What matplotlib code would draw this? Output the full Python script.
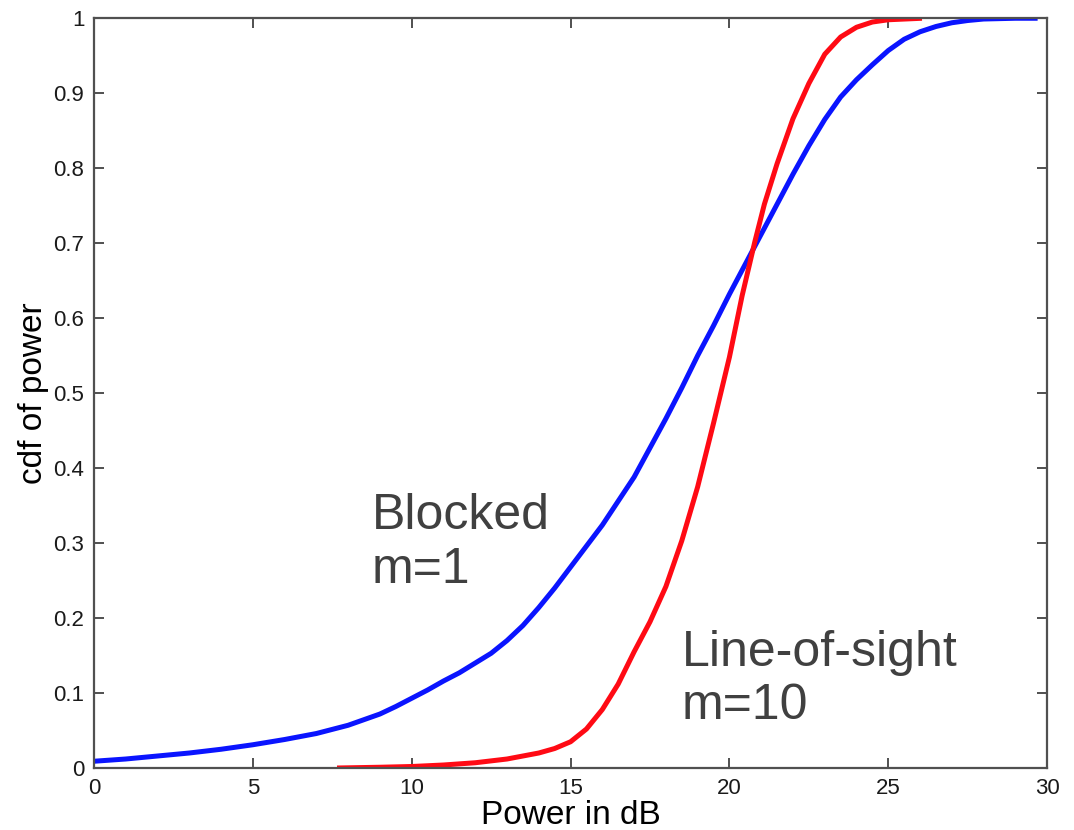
import matplotlib.pyplot as plt

# cdf of received power
blocked_db = [0, 1, 2, 3, 4, 5, 6, 7, 8, 9, 9.5, 10, 10.5, 11, 11.5, 12, 12.5, 13,
              13.5, 14, 14.5, 15, 15.5, 16, 16.5, 17, 17.5, 18, 18.5, 19, 19.5, 20,
              20.5, 21, 21.5, 22, 22.5, 23, 23.5, 24, 24.5, 25, 25.5, 26, 26.5, 27,
              27.5, 28, 29, 29.7]
blocked_cdf = [0.009, 0.012, 0.016, 0.020, 0.025, 0.031, 0.038, 0.046, 0.057, 0.072,
               0.082, 0.093, 0.104, 0.116, 0.127, 0.140, 0.153, 0.170, 0.190, 0.214,
               0.240, 0.268, 0.296, 0.324, 0.356, 0.388, 0.427, 0.466, 0.507, 0.550,
               0.590, 0.632, 0.672, 0.712, 0.752, 0.792, 0.830, 0.865, 0.895, 0.918,
               0.938, 0.957, 0.972, 0.982, 0.989, 0.994, 0.997, 0.999, 1.0, 1.0]

los_db = [7.65, 9, 10, 11, 12, 13, 14, 14.5, 15, 15.5, 16, 16.5, 17, 17.5, 18, 18.5,
          19, 19.5, 20, 20.4, 20.8, 21.1, 21.5, 22, 22.5, 23, 23.5, 24, 24.5, 25, 26.06]
los_cdf = [0, 0.001, 0.002, 0.004, 0.007, 0.012, 0.020, 0.026, 0.035, 0.052, 0.078,
           0.112, 0.155, 0.195, 0.242, 0.303, 0.375, 0.46, 0.548, 0.63, 0.702, 0.752,
           0.806, 0.866, 0.913, 0.952, 0.975, 0.988, 0.995, 0.998, 1.0]

x_ticks = [0, 5, 10, 15, 20, 25, 30]
y_ticks = [0, 0.1, 0.2, 0.3, 0.4, 0.5, 0.6, 0.7, 0.8, 0.9, 1]
y_tick_labels = ['0', '0.1', '0.2', '0.3', '0.4', '0.5', '0.6', '0.7', '0.8', '0.9', '1']

plt.rcParams['font.family'] = ['Liberation Sans', 'DejaVu Sans']

fig = plt.figure(figsize=(10.74, 8.3), dpi=100)
ax = fig.add_axes([0.0875, 0.0747, 0.8875, 0.9033])

ax.plot(blocked_db, blocked_cdf, color='#0a14ff', linewidth=3.6,
        solid_joinstyle='round', solid_capstyle='butt')
ax.plot(los_db, los_cdf, color='#ff0a14', linewidth=3.6,
        solid_joinstyle='round', solid_capstyle='butt')

ax.set_xlim(0, 30)
ax.set_ylim(0, 1)
ax.set_xticks(x_ticks)
ax.set_yticks(y_ticks)
ax.set_yticklabels(y_tick_labels)

for s in ax.spines.values():
    s.set_color('#505050')
    s.set_linewidth(1.6)

ax.tick_params(direction='in', length=7, width=1.4, color='#505050',
               top=True, right=True, labelsize=16, labelcolor='#1a1a1a', pad=7)

ax.set_xlabel('Power in dB', fontsize=24, labelpad=1)
ax.set_ylabel('cdf of power', fontsize=24, labelpad=3)

# curve annotations
ax.text(8.75, 0.30, 'Blocked\nm=1', fontsize=36, color='#404040',
        ha='left', va='center', linespacing=1.2)
ax.text(18.5, 0.118, 'Line-of-sight\nm=10', fontsize=36, color='#404040',
        ha='left', va='center', linespacing=1.2)

fig.savefig('out.png', dpi=100)
plt.close(fig)
